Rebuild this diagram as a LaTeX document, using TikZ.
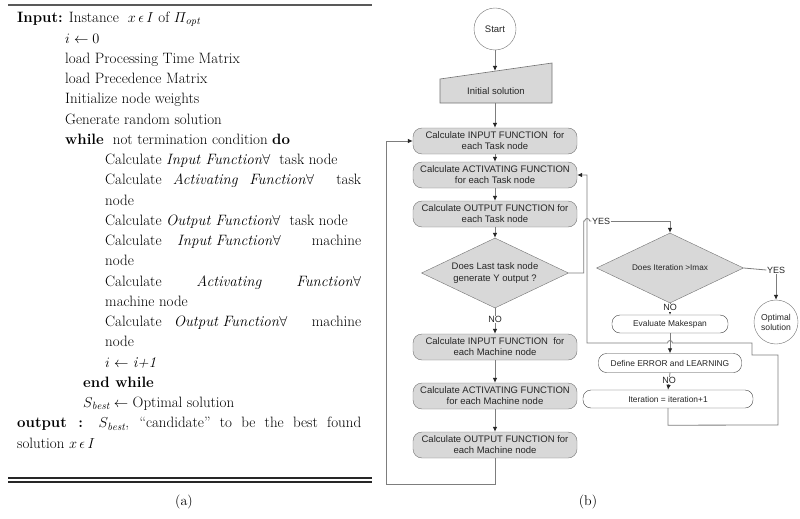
\documentclass[tikz,border=0pt]{standalone}
\usepackage{fontspec}
\usepackage{amsmath}
\newfontfamily\arial{Liberation Sans}
\usetikzlibrary{shapes.geometric,arrows.meta}
\definecolor{boxfill}{RGB}{216,216,216}
\definecolor{edgec}{RGB}{115,115,115}
\definecolor{wirec}{RGB}{125,125,125}
\begin{document}
\begin{tikzpicture}[x=1pt,y=-1pt,
  proc/.style={draw=edgec, fill=boxfill, rounded corners=9pt, minimum width=164pt, minimum height=26pt,
    inner sep=1pt, align=center, text=black!85, font=\arial\fontsize{9.5}{11}\selectfont},
  wproc/.style={draw=black!75, fill=white, rounded corners=8pt, minimum height=18pt, inner sep=1pt,
    text=black!85, font=\arial\fontsize{8.4}{9}\selectfont},
  dec/.style={diamond, aspect=2.1, draw=edgec, fill=boxfill, minimum width=147pt, minimum height=70pt, inner sep=0pt,
    align=center, text=black!85, font=\arial\fontsize{9.5}{11.5}\selectfont},
  term/.style={circle, draw=edgec, fill=white, minimum size=42pt, inner sep=0pt, align=center,
    text=black!85, font=\arial\fontsize{9.5}{11}\selectfont},
  wire/.style={draw=wirec, line width=0.8pt},
  arr/.style={wire, -{Latex[length=5pt,width=4.5pt,color=black!85]}},
  lab/.style={font=\arial\fontsize{9}{10}\selectfont, text=black!85, fill=white, inner sep=0.5pt},
  alg/.style={anchor=base west, inner sep=0pt, font=\fontsize{15}{18}\selectfont}]
\useasboundingbox (0,0) rectangle (800,519);
\fill[white] (0,0) rectangle (800,519);

% ---------------- panel (a) ----------------
\draw[black!65, line width=1.4pt] (8,5) -- (372,5);
\node[alg] (a0) at (17,22.8) {\textbf{Input:} Instance \ $x\,\epsilon\, I$ of $\varPi_{\mathit{opt}}$};
\node[alg] (a1) at (65,43.05) {$i \leftarrow 0$};
\node[alg] (a2) at (65,63.3) {load Processing Time Matrix};
\node[alg] (a3) at (65,83.55) {load Precedence Matrix};
\node[alg] (a4) at (65,103.8) {Initialize node weights};
\node[alg] (a5) at (65,124.05) {Generate random solution};
\node[alg] (a6) at (65,144.3) {\textbf{while} \ not termination condition \textbf{do}};
\node[alg] (a7) at (105,164.55) {Calculate \textit{Input Function}$\forall$\ \ task node};
\node[alg] (a8) at (105,184.8) {\makebox[256pt][s]{Calculate \textit{Activating} \textit{Function}$\forall$\ \ task}};
\node[alg] (a9) at (105,205.05) {node};
\node[alg] (a10) at (105,225.3) {Calculate \textit{Output Function}$\forall$\ \ task node};
\node[alg] (a11) at (105,245.55) {\makebox[256pt][s]{Calculate \textit{Input}\hspace{4pt}\textit{Function}$\forall$\ \ machine}};
\node[alg] (a12) at (105,265.8) {node};
\node[alg] (a13) at (105,286.05) {\makebox[256pt][s]{Calculate \textit{Activating} \textit{Function}$\forall$}};
\node[alg] (a14) at (105,306.3) {machine node};
\node[alg] (a15) at (105,326.55) {\makebox[256pt][s]{Calculate \textit{Output}\hspace{4pt}\textit{Function}$\forall$\ \ machine}};
\node[alg] (a16) at (105,346.8) {node};
\node[alg] (a17) at (105,367.05) {$i \leftarrow$ \textit{i+1}};
\node[alg] (a18) at (83,387.3) {\textbf{end while}};
\node[alg] (a19) at (83,407.55) {$S_{\mathit{best}} \leftarrow$ Optimal solution};
\node[alg] (a20) at (17,427.8) {\makebox[344pt][s]{\textbf{output :} $S_{\mathit{best}}$, “candidate” to be the best found}};
\node[alg] (a21) at (17,448.05) {solution $x\,\epsilon\, I$};
\draw[black!85, line width=1.1pt] (8,478) -- (372,478);
\draw[black!85, line width=2.6pt] (8,482) -- (372,482);
\node[font=\fontsize{14}{16}\selectfont] (capa) at (184,502) {(a)};

% ---------------- panel (b) ----------------
\node[term] (start) at (495,29) {Start};
\draw[draw=edgec, fill=boxfill, line width=0.6pt] (440,79) -- (552,63) -- (552,103) -- (440,103) -- cycle;
\node[text=black!85, font=\arial\fontsize{9.5}{11}\selectfont] (init) at (496,91) {Initial solution};
\coordinate (inittop) at (495,71);
\coordinate (initbot) at (495,103);

\node[proc] (ti) at (495,141) {Calculate INPUT FUNCTION\ \ for\\each Task node};
\node[proc] (ta) at (495,175) {Calculate ACTIVATING FUNCTION\\for each Task node};
\node[proc] (to) at (495,214) {Calculate OUTPUT FUNCTION for\\each Task node};
\node[dec] (d1) at (495,273) {Does Last task node\\generate Y output ?};
\node[proc] (mi) at (495,347) {Calculate INPUT FUNCTION\ \ for\\each Machine node};
\node[proc] (ma) at (495,396) {Calculate ACTIVATING FUNCTION\\for each Machine node};
\node[proc] (mo) at (495,445) {Calculate OUTPUT FUNCTION for\\each Machine node};

\node[dec, font=\arial\fontsize{8.2}{9}\selectfont] (d2) at (670,268) {Does Iteration >Imax};
\node[term, minimum size=44pt, font=\arial\fontsize{8.6}{10}\selectfont] (opt) at (776,322) {Optimal\\solution};
\node[wproc, minimum width=116pt] (em) at (670,324) {Evaluate Makespan};
\node[wproc, minimum width=143pt, minimum height=19pt] (de) at (670,363) {Define ERROR and LEARNING};
\node[wproc, minimum width=170pt] (it) at (668,399) {Iteration = iteration+1};

\node[lab] (yes1) at (601,221) {YES};
\node[lab] (yes2) at (776,270) {YES};

\draw[arr] (start) -- (inittop);
\draw[arr] (initbot) -- (ti);
\draw[arr] (ti) -- (ta);
\draw[arr] (ta) -- (to);
\draw[arr] (to) -- (d1);
\draw[arr] (d1) -- node[lab, pos=0.45] (no1) {NO} (mi);
\draw[arr] (mi) -- (ma);
\draw[arr] (ma) -- (mo);
\draw[arr] (mo.south) -- ++(0,26) -| ([xshift=-26pt]ti.west) -- (ti.west);

% loop back from iteration to activating function
\draw[arr] (it.south) -- ++(0,17) -- (778,425) -- (778,355) -- (752,355) -- (752,343)
  -- (672.5,343) arc[start angle=360, end angle=180, radius=2.5] -- (587,343) |- (ta.east);

% YES from first decision
\draw[wire] (d1.east) -- ++(15,0) -- ++(0,-52) -- ++(1,0) arc[start angle=180, end angle=360, radius=2.5] -- (yes1.west);
\draw[arr] (yes1.east) -| (d2.north);

\draw[wire] (d2.east) -- (yes2.west);
\draw[arr] (yes2.south) -- (opt.north);
\draw[arr] (d2.south) -- node[lab, pos=0.4] (no2) {NO} (em.north);
\draw[arr] (em.south) -- (de.north);
\draw[arr] (de.south) -- node[lab, pos=0.45] (no3) {NO} (it.north);

\node[font=\fontsize{14}{16}\selectfont] (capb) at (588,502) {(b)};
\end{tikzpicture}
\end{document}
